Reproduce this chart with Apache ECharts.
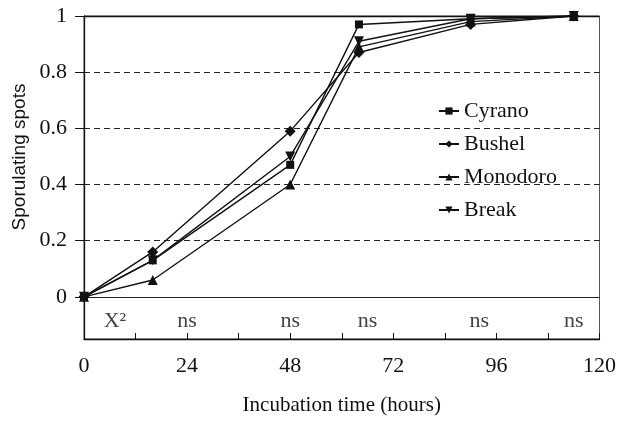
<!DOCTYPE html>
<html>
<head>
<meta charset="utf-8">
<script src="https://cdn.jsdelivr.net/npm/echarts@6/dist/echarts.min.js"></script>
<style>
  html, body { margin: 0; padding: 0; background: #fff; }
  #chart { width: 619px; height: 421px; }
</style>
</head>
<body>
<div id="chart"></div>
<script>
// incubation times (hours) and fraction of sporulating spots
var hours = [0, 16, 48, 64, 90, 114];
var cyrano   = [0, 0.13, 0.47, 0.97, 0.99, 1.00];
var bushel   = [0, 0.16, 0.59, 0.87, 0.97, 1.00];
var monodoro = [0, 0.06, 0.40, 0.89, 0.98, 1.00];
var breakVar = [0, 0.13, 0.50, 0.91, 0.99, 1.00];

// X2 test row under the zero line
var testX = [7.2, 24, 48, 66, 92, 114];
var testText = ['X²', 'ns', 'ns', 'ns', 'ns', 'ns'];
var testY = -0.085;

var yTicks = [0, 0.2, 0.4, 0.6, 0.8, 1];
var dashLines = [0.2, 0.4, 0.6, 0.8];

var serif = 'Liberation Serif';

function pairs(ys) {
  return hours.map(function (h, i) { return [h, ys[i]]; });
}

function lineSeries(name, ys, symbol, size) {
  return {
    name: name,
    type: 'line',
    data: pairs(ys),
    symbol: symbol,
    symbolSize: size,
    showAllSymbol: true,
    lineStyle: { color: '#111', width: 1.4 },
    itemStyle: { color: '#111' },
    z: 3
  };
}

var chart = echarts.init(document.getElementById('chart'));

var gridMarks = dashLines.map(function (v) {
  return { yAxis: v, lineStyle: { type: [6, 4], color: '#222', width: 1 } };
});
gridMarks.push({ yAxis: 0, lineStyle: { type: 'solid', color: '#222', width: 1.2 } });
gridMarks.push({ yAxis: 1, lineStyle: { type: 'solid', color: '#111', width: 1.3 } });

var series = [
  lineSeries('Cyrano', cyrano, 'rect', 8),
  lineSeries('Bushel', bushel, 'diamond', 11),
  lineSeries('Monodoro', monodoro, 'triangle', 10),
  lineSeries('Break', breakVar, 'path://M0,0 L10,0 L5,9 Z', 10),
  {
    name: 'test',
    type: 'scatter',
    data: testX.map(function (x, i) { return { value: [x, testY], name: testText[i] }; }),
    symbolSize: 1,
    itemStyle: { color: 'rgba(0,0,0,0)' },
    label: {
      show: true,
      position: 'inside',
      formatter: '{b}',
      color: '#111',
      fontFamily: serif,
      fontSize: 22
    },
    silent: true
  }
];

series[0].markLine = {
  silent: true,
  symbol: 'none',
  label: { show: false },
  data: gridMarks,
  z: 1
};

chart.setOption({
  animation: false,
  backgroundColor: '#fff',
  grid: {
    left: 84, right: 18, top: 16, bottom: 78,
    show: true,
    borderColor: '#555',
    borderWidth: 1
  },
  legend: {
    data: ['Cyrano', 'Bushel', 'Monodoro', 'Break'],
    orient: 'vertical',
    left: 433,
    top: 95,
    itemWidth: 20,
    itemHeight: 9,
    itemGap: 11,
    textStyle: { fontFamily: serif, fontSize: 22, color: '#111' }
  },
  xAxis: {
    type: 'value',
    min: 0,
    max: 120,
    interval: 12,
    name: 'Incubation time (hours)',
    nameLocation: 'middle',
    nameGap: 56,
    nameTextStyle: { fontFamily: serif, fontSize: 21, color: '#111' },
    axisLine: { onZero: false, lineStyle: { color: '#111', width: 1.3 } },
    axisTick: { inside: true, length: 6, lineStyle: { color: '#111' } },
    axisLabel: {
      margin: 16,
      fontFamily: serif,
      fontSize: 22,
      color: '#111',
      formatter: function (v) { return v % 24 === 0 ? String(v) : ''; }
    },
    splitLine: { show: false }
  },
  yAxis: {
    type: 'value',
    min: -0.15,
    max: 1,
    axisLine: { show: true, lineStyle: { color: '#111', width: 1.3 } },
    axisTick: { show: true, length: 9, customValues: yTicks, lineStyle: { color: '#111' } },
    axisLabel: {
      margin: 17,
      customValues: yTicks,
      fontFamily: serif,
      fontSize: 22,
      color: '#111',
      formatter: function (v) { return String(Math.round(v * 10) / 10); }
    },
    splitLine: { show: false }
  },
  graphic: [{
    type: 'text',
    x: 20,
    y: 157,
    rotation: Math.PI / 2,
    style: {
      text: 'Sporulating spots',
      fontFamily: 'Liberation Sans',
      fontSize: 19,
      fill: '#111',
      textAlign: 'center',
      textVerticalAlign: 'middle'
    }
  }],
  series: series
});
</script>
</body>
</html>
